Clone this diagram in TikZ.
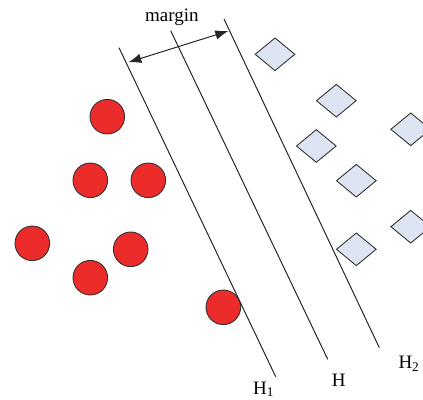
\documentclass[tikz,border=0pt]{standalone}
\usepackage{fontspec}
\setmainfont{Liberation Serif}
\usepackage{xcolor}
\usetikzlibrary{arrows.meta,shapes.geometric}

\definecolor{ptred}{RGB}{236,43,43}
\definecolor{ptblue}{RGB}{222,229,242}

\begin{document}
\begin{tikzpicture}[x=1pt,y=-1pt,
    every node/.style={font=\fontsize{19}{22}\selectfont},
    redpt/.style ={circle,draw=black!80,fill=ptred,line width=0.9pt,
                   minimum size=34.6pt,inner sep=0pt},
    bluept/.style={diamond,draw=black!80,fill=ptblue,line width=0.9pt,
                   minimum width=40pt,minimum height=33pt,inner sep=0pt},
    hyp/.style   ={black!85,line width=1pt},
    lbl/.style   ={inner sep=0pt,anchor=base west},
    arr/.style   ={{Latex[length=13pt,width=9.5pt]}-{Latex[length=13pt,width=9.5pt]},
                   black!85,line width=1pt},
  ]
  \useasboundingbox (0,0) rectangle (423,399);

  % Left: red class
  \node[redpt] (R1) at (107.3,116.7) {};
  \node[redpt] (R2) at ( 90.3,180.3) {};
  \node[redpt] (R3) at (148.3,180.3) {};
  \node[redpt] (R4) at ( 32.3,243.3) {};
  \node[redpt] (R5) at (130.7,249.3) {};
  \node[redpt] (R6) at ( 90.3,277.7) {};
  \node[redpt] (R7) at (223.3,307.3) {};

  % Right: blue class
  \node[bluept] (B1) at (275.0, 54.3) {};
  \node[bluept] (B2) at (336.3,100.7) {};
  \node[bluept] (B3) at (410.7,129.3) {};
  \node[bluept] (B4) at (316.3,146.0) {};
  \node[bluept] (B5) at (356.3,180.7) {};
  \node[bluept] (B6) at (410.7,226.7) {};
  \node[bluept] (B7) at (356.3,249.3) {};

  % Hyperplanes
  \coordinate (H1a) at (119.0, 47.7);
  \coordinate (H1b) at (275.7,376.7);
  \coordinate (H0a) at (170.7, 30.7);
  \coordinate (H0b) at (327.7,359.3);
  \coordinate (H2a) at (224.0, 19.0);
  \coordinate (H2b) at (379.3,347.7);
  \draw[hyp] (H1a) -- (H1b);
  \draw[hyp] (H0a) -- (H0b);
  \draw[hyp] (H2a) -- (H2b);

  \node[lbl] (LH1) at (253.0,394.0) {H\textsubscript{1}};
  \node[lbl] (LH0) at (331.7,386.0) {H};
  \node[lbl] (LH2) at (398.3,368.3) {H\textsubscript{2}};

  % Margin
  \coordinate (Ma) at (128.3,62.3);
  \coordinate (Mb) at (228.3,31.0);
  \draw[arr] (Ma) -- (Mb);
  \node[lbl] (LM) at (145.0,21.7) {margin};
\end{tikzpicture}
\end{document}
